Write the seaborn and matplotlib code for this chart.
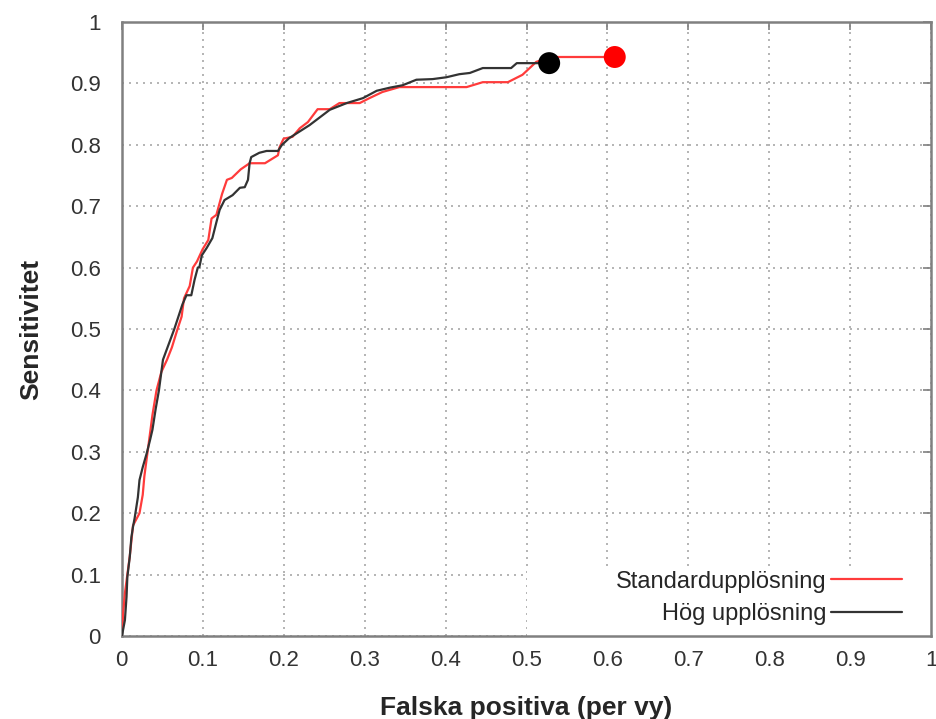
import matplotlib
matplotlib.use("Agg")
import matplotlib.pyplot as plt
from matplotlib.patches import Rectangle
from matplotlib.ticker import MultipleLocator, FormatStrFormatter
import numpy as np
import pandas as pd
import seaborn as sns

# Standardupplösning (red)
std_fp = [0, 0.002, 0.004, 0.007, 0.010, 0.014, 0.018, 0.022, 0.026, 0.028, 0.031, 0.034,
          0.038, 0.043, 0.049, 0.056, 0.062, 0.069, 0.074, 0.077, 0.084, 0.088, 0.093, 0.100,
          0.107, 0.111, 0.117, 0.124, 0.130, 0.136, 0.147, 0.158, 0.177, 0.193, 0.195, 0.200,
          0.211, 0.220, 0.230, 0.242, 0.257, 0.269, 0.294, 0.306, 0.322, 0.343, 0.426, 0.446,
          0.477, 0.495, 0.512, 0.530, 0.609]
std_sens = [0, 0.04, 0.07, 0.10, 0.13, 0.18, 0.19, 0.20, 0.23, 0.26, 0.29, 0.32,
            0.36, 0.40, 0.43, 0.45, 0.47, 0.50, 0.52, 0.55, 0.57, 0.60, 0.61, 0.63,
            0.645, 0.68, 0.686, 0.72, 0.743, 0.746, 0.76, 0.77, 0.77, 0.783, 0.796, 0.81,
            0.813, 0.827, 0.837, 0.858, 0.858, 0.868, 0.868, 0.876, 0.886, 0.894, 0.894, 0.902,
            0.902, 0.914, 0.935, 0.943, 0.943]

# Hög upplösning (black)
high_fp = [0, 0.001, 0.004, 0.006, 0.007, 0.010, 0.012, 0.014, 0.016, 0.020, 0.022, 0.026,
           0.031, 0.035, 0.038, 0.042, 0.046, 0.051, 0.058, 0.065, 0.070, 0.075, 0.080, 0.086,
           0.090, 0.094, 0.096, 0.099, 0.105, 0.112, 0.117, 0.121, 0.127, 0.137, 0.146, 0.152,
           0.156, 0.158, 0.160, 0.170, 0.179, 0.193, 0.198, 0.207, 0.232, 0.257, 0.278, 0.298,
           0.315, 0.331, 0.347, 0.364, 0.384, 0.401, 0.417, 0.430, 0.446, 0.481, 0.488, 0.528]
high_sens = [0, 0.005, 0.026, 0.064, 0.096, 0.129, 0.161, 0.178, 0.192, 0.226, 0.254, 0.275,
             0.298, 0.319, 0.336, 0.37, 0.40, 0.45, 0.475, 0.50, 0.52, 0.54, 0.555, 0.555,
             0.58, 0.60, 0.601, 0.62, 0.632, 0.648, 0.674, 0.694, 0.71, 0.718, 0.73, 0.731,
             0.743, 0.77, 0.78, 0.787, 0.79, 0.79, 0.80, 0.811, 0.832, 0.857, 0.868, 0.876,
             0.888, 0.893, 0.897, 0.906, 0.907, 0.91, 0.915, 0.917, 0.925, 0.925, 0.933, 0.933]

labels = ["Standardupplösning", "Hög upplösning"]

sns.set_style("white")
plt.rcParams["font.family"] = ["Liberation Sans", "DejaVu Sans"]

std = pd.DataFrame({"fp": std_fp, "sens": std_sens})
high = pd.DataFrame({"fp": high_fp, "sens": high_sens})

fig = plt.figure(figsize=(9.36, 7.19), dpi=100)
ax = fig.add_axes([0.130, 0.1154, 0.865, 0.8540])

red = "#ff3b3b"
dark = "#333333"

sns.lineplot(data=std, x="fp", y="sens", sort=False, estimator=None, color=red,
             linewidth=1.6, ax=ax, label=labels[0], zorder=3)
sns.lineplot(data=high, x="fp", y="sens", sort=False, estimator=None, color=dark,
             linewidth=1.6, ax=ax, label=labels[1], zorder=4)
sns.scatterplot(data=std.tail(1), x="fp", y="sens", color="#ff0000", s=250,
                edgecolor="none", ax=ax, zorder=5, legend=False)
sns.scatterplot(data=high.tail(1), x="fp", y="sens", color="#000000", s=250,
                edgecolor="none", ax=ax, zorder=6, legend=False)

ax.set_xlim(0, 1)
ax.set_ylim(0, 1)
ax.xaxis.set_major_locator(MultipleLocator(0.1))
ax.yaxis.set_major_locator(MultipleLocator(0.1))
ax.xaxis.set_major_formatter(FormatStrFormatter("%g"))
ax.yaxis.set_major_formatter(FormatStrFormatter("%g"))

ax.grid(True, color="#a8a8a8", linestyle=(0, (1.2, 3)), linewidth=1.2, zorder=1)
ax.set_axisbelow(True)

# opaque key area like gnuplot
ax.add_patch(Rectangle((0.5, 0.0), 0.5, 0.11, transform=ax.transAxes,
                       facecolor="white", edgecolor="none", zorder=2))

for s in ax.spines.values():
    s.set_color("#808080")
    s.set_linewidth(1.8)

ax.tick_params(axis="both", direction="in", length=6, width=1.2, color="#808080",
               labelsize=16, labelcolor="#333333", top=True, right=True)
ax.tick_params(axis="y", pad=15)
ax.tick_params(axis="x", pad=10)

ax.set_xlabel("Falska positiva (per vy)", fontsize=19, fontweight="bold", labelpad=18)
ax.set_ylabel("Sensitivitet", fontsize=19, fontweight="bold", labelpad=19)

leg = ax.legend(loc="lower right", bbox_to_anchor=(0.975, 0.002), markerfirst=False,
                frameon=False, fontsize=17, handlelength=3.0, borderaxespad=0.0,
                labelspacing=0.45, handletextpad=0.2)
leg.set_zorder(7)

plt.savefig("out.png", dpi=100)
